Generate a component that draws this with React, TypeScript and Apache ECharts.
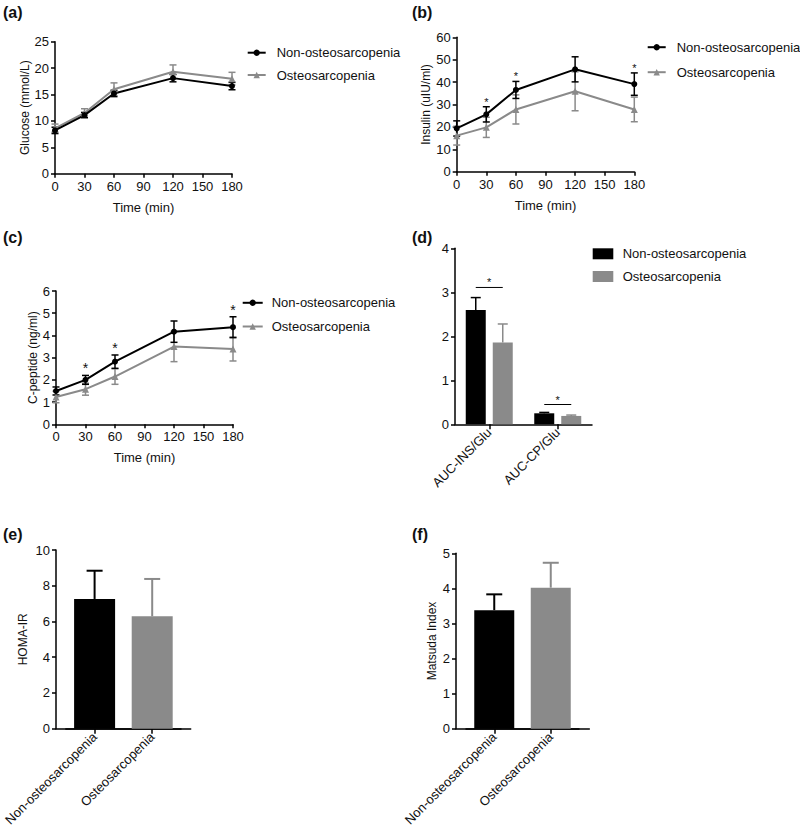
import React, { useEffect, useRef } from 'react';
import * as echarts from 'echarts';

const FONT = '"Liberation Sans", Arial, Helvetica, sans-serif';
const BLACK = '#000000';
const GRAY = '#8a8a8a';
const TEXT = '#111111';
const NON = 'Non-osteosarcopenia';
const OST = 'Osteosarcopenia';

// ---- data ----
const timePoints = [0, 30, 60, 120, 180];

const glucoseNon = [8.2, 11.1, 15.2, 18.1, 16.6];
const glucoseNonSE = [0.6, 0.5, 0.6, 0.7, 0.7];
const glucoseOst = [8.6, 11.5, 16.0, 19.3, 18.0];
const glucoseOstSE = [0.8, 0.8, 1.2, 1.3, 1.2];

const insulinNon = [19.3, 25.6, 36.5, 45.7, 39.1];
const insulinNonSE = [3.4, 3.4, 3.8, 5.6, 5.0];
const insulinOst = [16.1, 19.8, 27.8, 35.9, 27.8];
const insulinOstSE = [4.2, 4.5, 6.5, 8.7, 5.5];
const insulinSig = [false, true, true, false, true];

const cpepNon = [1.5, 2.0, 2.82, 4.17, 4.37];
const cpepNonSE = [0.18, 0.2, 0.3, 0.48, 0.47];
const cpepOst = [1.23, 1.58, 2.15, 3.5, 3.39];
const cpepOstSE = [0.26, 0.27, 0.35, 0.68, 0.54];
const cpepSig = [false, true, true, false, true];

const aucCats = ['AUC-INS/Glu', 'AUC-CP/Glu'];
const aucNon = [2.6, 0.25];
const aucNonSE = [0.28, 0.02];
const aucOst = [1.86, 0.19];
const aucOstSE = [0.42, 0.02];
const aucSigY = [3.11, 0.45];

const groups = [NON, OST];
const homa = [7.26, 6.29];
const homaSE = [1.58, 2.09];
const matsuda = [3.38, 4.02];
const matsudaSE = [0.45, 0.71];

const groupColors = [BLACK, GRAY];

// ---- helpers ----
const labelStyle = { color: TEXT, fontSize: 13, fontFamily: FONT, fontWeight: 'normal', margin: 6 };
const axisLine = { show: true, lineStyle: { color: BLACK, width: 1.5 } };
const axisTick = { show: true, length: 4, inside: false, lineStyle: { color: BLACK, width: 1.5 } };

function errorSeries(gi: number, xs: any[], means: number[], errs: number[], color: string, cap: number, both: boolean, dx: number, lw: number) {
  return {
    type: 'custom',
    xAxisIndex: gi,
    yAxisIndex: gi,
    silent: true,
    encode: { x: 0, y: 1 },
    data: xs.map((x, i) => [x, means[i], errs[i]]),
    renderItem: (_p: any, api: any) => {
      const x = api.value(0);
      const m = api.value(1);
      const e = api.value(2);
      const top = api.coord([x, m + e]);
      const bot = api.coord([x, both ? m - e : m]);
      const cx = top[0] + dx;
      const h = cap / 2;
      const st = { stroke: color, lineWidth: lw };
      const children: any[] = [
        { type: 'line', shape: { x1: cx, y1: top[1], x2: cx, y2: bot[1] }, style: st },
        { type: 'line', shape: { x1: cx - h, y1: top[1], x2: cx + h, y2: top[1] }, style: st },
      ];
      if (both) children.push({ type: 'line', shape: { x1: cx - h, y1: bot[1], x2: cx + h, y2: bot[1] }, style: st });
      return { type: 'group', children };
    },
  };
}

function starSeries(gi: number, xs: number[], means: number[], errs: number[], sig: boolean[], fontSize: number, gap: number) {
  const data: number[][] = [];
  xs.forEach((x, i) => {
    if (sig[i]) data.push([x, means[i] + errs[i]]);
  });
  return {
    type: 'custom',
    xAxisIndex: gi,
    yAxisIndex: gi,
    silent: true,
    encode: { x: 0, y: 1 },
    data,
    renderItem: (_p: any, api: any) => {
      const pt = api.coord([api.value(0), api.value(1)]);
      return {
        type: 'text',
        x: pt[0],
        y: pt[1] - gap,
        style: { text: '*', fontSize, fontFamily: FONT, fill: TEXT, align: 'center', verticalAlign: 'middle' },
      };
    },
  };
}

function lineSeries(gi: number, name: string, values: number[], color: string, symbol: string, size: number) {
  return {
    type: 'line',
    name,
    xAxisIndex: gi,
    yAxisIndex: gi,
    data: timePoints.map((t, i) => [t, values[i]]),
    symbol,
    symbolSize: size,
    showSymbol: true,
    lineStyle: { color, width: 2 },
    itemStyle: { color },
    silent: true,
  };
}

function timeAxis(gi: number, nameGap: number) {
  return {
    gridIndex: gi,
    type: 'value',
    min: 0,
    max: 180,
    interval: 30,
    name: 'Time (min)',
    nameLocation: 'middle',
    nameGap,
    nameTextStyle: { color: TEXT, fontSize: 13, fontFamily: FONT, fontWeight: 'normal' },
    axisLine,
    axisTick,
    axisLabel: labelStyle,
    splitLine: { show: false },
  };
}

function valueYAxis(gi: number, max: number, interval: number, name: string, nameGap: number, offset = 0) {
  return {
    gridIndex: gi,
    type: 'value',
    min: 0,
    max,
    interval,
    offset,
    name,
    nameLocation: 'middle',
    nameGap,
    nameTextStyle: { color: TEXT, fontSize: 12, fontFamily: FONT, fontWeight: 'normal' },
    axisLine,
    axisTick,
    axisLabel: labelStyle,
    splitLine: { show: false },
  };
}

function catAxis(gi: number, data: string[]) {
  return {
    gridIndex: gi,
    type: 'category',
    data,
    boundaryGap: true,
    axisLine,
    axisTick: { ...axisTick, alignWithLabel: true, length: 5 },
    axisLabel: { ...labelStyle, rotate: 45, interval: 0 },
    splitLine: { show: false },
  };
}

function plainXAxis(gi: number) {
  return {
    gridIndex: gi,
    type: 'value',
    min: 0,
    max: 1,
    axisLine,
    axisTick: { show: false },
    axisLabel: { show: false },
    splitLine: { show: false },
  };
}

function hiddenYAxis(gi: number) {
  return { gridIndex: gi, type: 'value', min: 0, max: 1, show: false };
}

function lineLegend(left: number, top: number, gap: number, itemWidth: number, textPad: number) {
  return {
    orient: 'vertical',
    left,
    top,
    padding: 0,
    itemGap: gap,
    itemWidth,
    itemHeight: 8,
    selectedMode: false,
    data: [NON, OST],
    textStyle: { color: TEXT, fontSize: 13, fontFamily: FONT, fontWeight: 'normal', lineHeight: 14, padding: [0, 0, 0, textPad] },
  };
}

const panelLabels = [
  { t: '(a)', x: 3, y: 13 },
  { t: '(b)', x: 412, y: 13 },
  { t: '(c)', x: 3, y: 238 },
  { t: '(d)', x: 412, y: 238 },
  { t: '(e)', x: 3, y: 535 },
  { t: '(f)', x: 412, y: 535 },
];

export default function App() {
  const ref = useRef<HTMLDivElement>(null);

  useEffect(() => {
    document.body.style.margin = '0';
    if (!ref.current) return;
    const chart = echarts.init(ref.current, undefined, { renderer: 'svg' });

    const BAR_D = 20;
    const GAP_D = 7;
    const offD = BAR_D / 2 + GAP_D / 2;

    const option: any = {
      animation: false,
      backgroundColor: '#ffffff',
      textStyle: { fontFamily: FONT },
      grid: [
        { left: 55, top: 41.7, width: 177, height: 132 },
        { left: 456.7, top: 37.3, width: 177.6, height: 134.4 },
        { left: 56, top: 291, width: 177, height: 133.3 },
        { left: 455, top: 248.3, width: 137, height: 176 },
        { left: 65.8, top: 550, width: 115.2, height: 178.7 },
        { left: 56, top: 550, width: 134.7, height: 178.7 },
        { left: 466, top: 553.3, width: 113, height: 175.4 },
        { left: 456, top: 553.3, width: 133.3, height: 175.4 },
      ],
      xAxis: [
        timeAxis(0, 27),
        timeAxis(1, 27),
        timeAxis(2, 27),
        catAxis(3, aucCats),
        catAxis(4, groups),
        plainXAxis(5),
        catAxis(6, groups),
        plainXAxis(7),
      ],
      yAxis: [
        valueYAxis(0, 25, 5, 'Glucose (mmol/L)', 22),
        valueYAxis(1, 60, 10, 'Insulin (uIU/ml)', 22),
        valueYAxis(2, 6, 1, 'C-peptide (ng/ml)', 16),
        valueYAxis(3, 4, 1, '', 0),
        valueYAxis(4, 10, 2, 'HOMA-IR', 27, 9.8),
        hiddenYAxis(5),
        valueYAxis(6, 5, 1, 'Matsuda Index', 18, 10),
        hiddenYAxis(7),
      ],
      legend: [
        lineLegend(246.7, 45.7, 8.3, 18, 6),
        lineLegend(646.7, 40.2, 11, 18, 6),
        lineLegend(241.7, 295.8, 9.7, 20, 4),
        {
          orient: 'vertical',
          left: 592.7,
          top: 246.8,
          padding: 0,
          itemGap: 8.7,
          itemWidth: 20.6,
          itemHeight: 11,
          selectedMode: false,
          data: [
            { name: NON, icon: 'rect', itemStyle: { color: BLACK, borderWidth: 0 } },
            { name: OST, icon: 'rect', itemStyle: { color: GRAY, borderWidth: 0 } },
          ],
          textStyle: { color: TEXT, fontSize: 13, fontFamily: FONT, fontWeight: 'normal', lineHeight: 14, padding: [0, 0, 0, 4.4] },
        },
      ],
      graphic: panelLabels.map((p) => ({
        type: 'text',
        left: p.x,
        top: p.y - 9,
        style: { text: p.t, fontSize: 16, fontWeight: 'bold', fontFamily: FONT, fill: TEXT },
      })),
      series: [
        // (a) glucose
        errorSeries(0, timePoints, glucoseOst, glucoseOstSE, GRAY, 7, true, 0, 1.5),
        lineSeries(0, OST, glucoseOst, GRAY, 'triangle', 7),
        errorSeries(0, timePoints, glucoseNon, glucoseNonSE, BLACK, 7, true, 0, 1.5),
        lineSeries(0, NON, glucoseNon, BLACK, 'circle', 6),
        // (b) insulin
        errorSeries(1, timePoints, insulinOst, insulinOstSE, GRAY, 7, true, 0, 1.5),
        lineSeries(1, OST, insulinOst, GRAY, 'triangle', 7),
        errorSeries(1, timePoints, insulinNon, insulinNonSE, BLACK, 7, true, 0, 1.5),
        lineSeries(1, NON, insulinNon, BLACK, 'circle', 6),
        starSeries(1, timePoints, insulinNon, insulinNonSE, insulinSig, 11, 5),
        // (c) c-peptide
        errorSeries(2, timePoints, cpepOst, cpepOstSE, GRAY, 7, true, 0, 1.5),
        lineSeries(2, OST, cpepOst, GRAY, 'triangle', 7),
        errorSeries(2, timePoints, cpepNon, cpepNonSE, BLACK, 7, true, 0, 1.5),
        lineSeries(2, NON, cpepNon, BLACK, 'circle', 6),
        starSeries(2, timePoints, cpepNon, cpepNonSE, cpepSig, 14, 7),
        // (d) AUC ratios
        {
          type: 'bar',
          name: NON,
          xAxisIndex: 3,
          yAxisIndex: 3,
          data: aucNon,
          barWidth: BAR_D,
          barGap: `${(GAP_D / BAR_D) * 100}%`,
          itemStyle: { color: BLACK },
          silent: true,
        },
        {
          type: 'bar',
          name: OST,
          xAxisIndex: 3,
          yAxisIndex: 3,
          data: aucOst,
          barWidth: BAR_D,
          barGap: `${(GAP_D / BAR_D) * 100}%`,
          itemStyle: { color: GRAY },
          silent: true,
        },
        errorSeries(3, aucCats.map((_, i) => i), aucNon, aucNonSE, BLACK, 10, false, -offD, 1.5),
        errorSeries(3, aucCats.map((_, i) => i), aucOst, aucOstSE, GRAY, 10, false, offD, 1.5),
        {
          type: 'custom',
          xAxisIndex: 3,
          yAxisIndex: 3,
          silent: true,
          encode: { x: 0, y: 1 },
          data: aucSigY.map((v, i) => [i, v]),
          renderItem: (_p: any, api: any) => {
            const pt = api.coord([api.value(0), api.value(1)]);
            return {
              type: 'group',
              children: [
                {
                  type: 'line',
                  shape: { x1: pt[0] - offD, y1: pt[1], x2: pt[0] + offD, y2: pt[1] },
                  style: { stroke: BLACK, lineWidth: 1 },
                },
                {
                  type: 'text',
                  x: pt[0],
                  y: pt[1] - 5,
                  style: { text: '*', fontSize: 11, fontFamily: FONT, fill: TEXT, align: 'center', verticalAlign: 'middle' },
                },
              ],
            };
          },
        },
        // (e) HOMA-IR
        {
          type: 'bar',
          xAxisIndex: 4,
          yAxisIndex: 4,
          barWidth: 41,
          data: homa.map((v, i) => ({ value: v, itemStyle: { color: groupColors[i] } })),
          silent: true,
        },
        errorSeries(4, [0], [homa[0]], [homaSE[0]], BLACK, 16, false, 0, 2),
        errorSeries(4, [1], [homa[1]], [homaSE[1]], GRAY, 16, false, 0, 2),
        // (f) Matsuda
        {
          type: 'bar',
          xAxisIndex: 6,
          yAxisIndex: 6,
          barWidth: 40,
          data: matsuda.map((v, i) => ({ value: v, itemStyle: { color: groupColors[i] } })),
          silent: true,
        },
        errorSeries(6, [0], [matsuda[0]], [matsudaSE[0]], BLACK, 16, false, 0, 2),
        errorSeries(6, [1], [matsuda[1]], [matsudaSE[1]], GRAY, 16, false, 0, 2),
      ],
    };

    chart.setOption(option);
    return () => {
      chart.dispose();
    };
  }, []);

  return <div ref={ref} style={{ width: 800, height: 838 }} />;
}
